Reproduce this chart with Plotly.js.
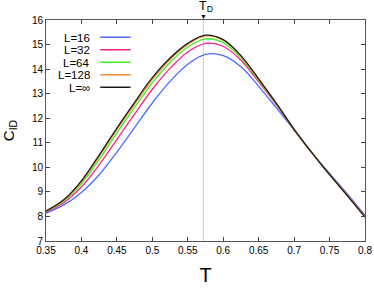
<!DOCTYPE html>
<html><head><meta charset="utf-8">
<script src="https://cdn.plot.ly/plotly-3.0.1.min.js"></script>
<style>html,body{margin:0;padding:0;background:#fff}#c{width:374px;height:291px}</style>
</head><body><div id="c"></div>
<script>
const T = [0.35,0.375,0.4,0.425,0.45,0.475,0.5,0.525,0.55,0.575,0.6,0.625,0.65,0.675,0.7,0.725,0.75,0.775,0.8];
const C_L16  = [8.13,8.47,8.98,9.70,10.62,11.62,12.62,13.50,14.20,14.60,14.55,14.10,13.30,12.42,11.52,10.60,9.75,8.92,8.05];
const C_L32  = [8.17,8.56,9.20,10.10,11.13,12.17,13.18,14.03,14.70,15.05,14.93,14.36,13.48,12.54,11.53,10.60,9.71,8.88,8.01];
const C_L64  = [8.20,8.62,9.33,10.32,11.40,12.44,13.44,14.27,14.90,15.23,15.08,14.46,13.54,12.57,11.54,10.60,9.70,8.86,7.99];
const C_L128 = [8.21,8.66,9.41,10.44,11.53,12.57,13.57,14.39,15.00,15.35,15.18,14.53,13.58,12.59,11.55,10.60,9.70,8.85,7.98];
const C_Linf = [8.22,8.68,9.45,10.50,11.60,12.65,13.65,14.45,15.05,15.38,15.20,14.55,13.60,12.60,11.55,10.60,9.70,8.85,7.97];
const labels = ['L=16','L=32','L=64','L=128','L=\u221E'];
const series = [C_L16, C_L32, C_L64, C_L128, C_Linf];
const colors = ['#4a6cff','#ff1f8f','#3cf01e','#ff8c3a','#1a1a1a'];
const TD = 0.572;
const xTicks = [0.35,0.4,0.45,0.5,0.55,0.6,0.65,0.7,0.75,0.8];
const yTicks = [7,8,9,10,11,12,13,14,15,16];

const traces = series.map((s,i)=>({
  x: T, y: s, type:'scatter', mode:'lines', name: labels[i],
  line:{color:colors[i], width:1.3, shape:'spline', smoothing:1},
  showlegend:false, hoverinfo:'skip'
}));

const font = {family:'Liberation Sans, Arial, sans-serif', color:'#000'};
const shapes = [{type:'line', xref:'x', yref:'paper', x0:TD, x1:TD, y0:0, y1:1, line:{color:'#cccccc', width:1}, layer:'below'}];
const annotations = [
  {xref:'x', yref:'paper', x:TD, y:1, yanchor:'bottom', yshift:0, text:'\u25BC', showarrow:false, height:6, borderpad:0, font:{...font, size:7}},
  {xref:'x', yref:'paper', x:TD, xshift:3, y:1, yanchor:'bottom', yshift:6, text:'T<sub>D</sub>', showarrow:false, height:13, borderpad:0, font:{...font, size:12.5}}
];
// legend drawn as text + line samples
labels.forEach((lab,i)=>{
  const yy = 0.922 - i*0.0566;
  annotations.push({xref:'paper', yref:'paper', x:0.14, y:yy, xanchor:'right', yanchor:'middle', text:lab, showarrow:false, height:11, borderpad:0, font:{...font, size:11.5}});
  shapes.push({type:'line', xref:'paper', yref:'paper', x0:0.17, x1:0.265, y0:yy, y1:yy, line:{color:colors[i], width:1.5}});
});

const layout = {
  width:374, height:291,
  margin:{l:46, r:9, t:20, b:50},
  paper_bgcolor:'#fff', plot_bgcolor:'#fff',
  font:{...font, size:10},
  xaxis:{range:[0.35,0.8], tickvals:xTicks, ticktext:xTicks.map(String), ticks:'inside', ticklen:4, tickcolor:'#444',
    showline:true, linecolor:'#555', linewidth:1, mirror:'ticks', showgrid:false, zeroline:false,
    tickfont:{...font, size:10},
    title:{text:'T', font:{...font, size:20}, standoff:12}},
  yaxis:{range:[7,16], tickvals:yTicks, ticks:'inside', ticklen:4, tickcolor:'#444',
    showline:true, linecolor:'#555', linewidth:1, mirror:'ticks', showgrid:false, zeroline:false,
    tickfont:{...font, size:10},
    title:{text:'C<sub>ID</sub>', font:{...font, size:15}, standoff:16}},
  shapes, annotations
};
Plotly.newPlot('c', traces, layout, {displayModeBar:false, staticPlot:true});
</script></body></html>
